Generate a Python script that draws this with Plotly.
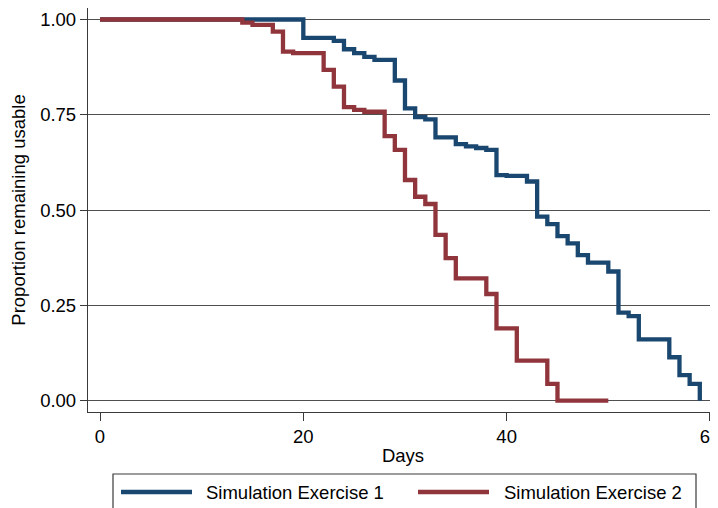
import plotly.graph_objects as go

# ---- data ----
days_ex1 = [0, 20, 23, 24, 25, 26, 27, 29, 30, 31, 32, 33, 35, 36, 37, 38, 39, 40,
            42, 43, 44, 45, 46, 47, 48, 50, 51, 52, 53, 56, 57, 58, 59]
surv_ex1 = [1.0, 0.952, 0.944, 0.922, 0.912, 0.902, 0.894, 0.840, 0.767, 0.744, 0.738,
            0.691, 0.673, 0.667, 0.663, 0.658, 0.592, 0.590, 0.575, 0.483, 0.463, 0.432,
            0.413, 0.382, 0.362, 0.339, 0.231, 0.222, 0.161, 0.114, 0.067, 0.044, 0.0]

days_ex2 = [0, 14, 15, 17, 18, 19, 22, 23, 24, 25, 26, 28, 29, 30, 31, 32, 33, 34, 35,
            38, 39, 41, 44, 45, 50]
surv_ex2 = [1.0, 0.992, 0.986, 0.968, 0.916, 0.912, 0.868, 0.824, 0.770, 0.763, 0.758,
            0.694, 0.658, 0.579, 0.535, 0.516, 0.435, 0.374, 0.321, 0.280, 0.190, 0.105,
            0.044, 0.0, 0.0]

series_names = ["Simulation Exercise 1", "Simulation Exercise 2"]
series_colors = ["#1a476f", "#90353b"]

x_ticks = [0, 20, 40, 60]
y_ticks = [0, 0.25, 0.5, 0.75, 1.0]
y_tick_text = ["0.00", "0.25", "0.50", "0.75", "1.00"]

FONT = "Liberation Sans, Arial, Helvetica, sans-serif"
FS = 18.5
OFF = 8  # page body margin
W, H = 718 - OFF, 508 - OFF
L, R, T, B = 88 - OFF, 0, 0, 508 - 412
PW, PH = W - L - R, H - T - B


def px(xp):
    return (xp - OFF - L) / PW


def py(yp):
    return (H - B - (yp - OFF)) / PH


fig = go.Figure()
for d, s, name, col in [(days_ex1, surv_ex1, series_names[0], series_colors[0]),
                        (days_ex2, surv_ex2, series_names[1], series_colors[1])]:
    fig.add_trace(go.Scatter(x=d, y=s, mode="lines", line=dict(shape="hv", color=col, width=4.3),
                             name=name, showlegend=False, cliponaxis=False))

axis_col = "#3a3a3a"
fig.update_layout(
    width=W, height=H,
    margin=dict(l=L, r=R, t=T, b=B, autoexpand=False),
    paper_bgcolor="white", plot_bgcolor="white",
    font=dict(family=FONT, size=FS, color="black"),
    xaxis=dict(range=[-1.18, 60.79], tickvals=x_ticks, showgrid=False, zeroline=False,
               automargin=False, ticklabeloverflow="allow",
               showline=True, linecolor=axis_col, linewidth=1.3,
               ticks="outside", ticklen=8, tickwidth=1.3, tickcolor=axis_col,
               title=dict(text="Days", standoff=2, font=dict(size=FS))),
    yaxis=dict(range=[-0.0296, 1.0302], tickvals=y_ticks, ticktext=y_tick_text,
               automargin=False,
               showgrid=True, gridcolor="#505050", gridwidth=1.3, zeroline=False,
               showline=True, linecolor=axis_col, linewidth=1.3,
               ticks="outside", ticklen=7, tickwidth=1.3, tickcolor=axis_col,
               title=dict(text="Proportion remaining usable", standoff=10, font=dict(size=FS))),
)

# manual legend box (Stata-like)
shapes = [dict(type="rect", xref="paper", yref="paper", x0=px(113), x1=px(696),
               y0=py(530), y1=py(474), line=dict(color="#3a3a3a", width=1.2), fillcolor="white",
               layer="above")]
leg = [(121, 192, 204), (418, 489, 502)]
annotations = []
for (lx0, lx1, tx), name, col in zip(leg, series_names, series_colors):
    shapes.append(dict(type="line", xref="paper", yref="paper", x0=px(lx0), x1=px(lx1),
                       y0=py(492), y1=py(492), line=dict(color=col, width=4.3)))
    annotations.append(dict(xref="paper", yref="paper", x=px(tx), y=py(492), text=name,
                            showarrow=False, xanchor="left", yanchor="middle",
                            font=dict(family=FONT, size=FS, color="black")))
fig.update_layout(shapes=shapes, annotations=annotations)

fig.write_html("out.html")
